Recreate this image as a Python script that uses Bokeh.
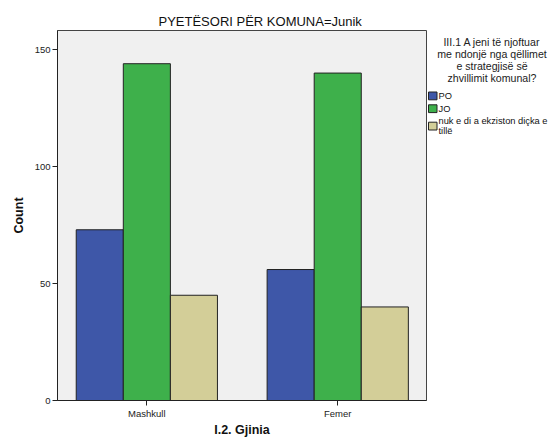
from bokeh.plotting import figure
from bokeh.layouts import row
from bokeh.models import Range1d, FixedTicker, Title, ColumnDataSource
from bokeh.core.properties import value
from bokeh.transform import dodge
from bokeh.embed import file_html
from bokeh.resources import INLINE

# ---- data ----
genders = ["Mashkull", "Femer"]
answers = ["PO", "JO", "nuk e di a ekziston diçka e\ntillë"]
po = [73, 56]
jo = [144, 140]
nuk = [45, 40]
y_ticks = [0, 50, 100, 150]
title_text = "PYETËSORI PËR KOMUNA=Junik"
legend_title = ["III.1 A jeni të njoftuar", "me ndonjë nga qëllimet",
                "e strategjisë së", "zhvillimit komunal?"]
x_label = "I.2. Gjinia"
y_label = "Count"

colors = ["#3E57A8", "#3EB04B", "#D3CE98"]
FONT = "Liberation Sans"
W, H = 554, 439
FRAME_RIGHT = 426
TOP, BOTTOM = 30, 39

src = ColumnDataSource(dict(x=list(range(len(genders))), po=po, jo=jo, nuk=nuk))

p = figure(width=FRAME_RIGHT + 1, height=H, output_backend="svg", toolbar_location=None,
           x_range=Range1d(-0.468, 1.465), y_range=Range1d(0, 158.2),
           min_border_left=57, min_border_right=1, min_border_top=TOP,
           min_border_bottom=BOTTOM, title=None)

p.background_fill_color = "#F0F0F0"
p.border_fill_color = "white"
p.outline_line_color = "#444444"
p.grid.visible = False

bw = 0.2466
p.vbar(x=dodge("x", -bw, range=p.x_range), top="po", width=bw, source=src,
       fill_color=colors[0], line_color="#222222", line_width=1)
p.vbar(x=dodge("x", 0, range=p.x_range), top="jo", width=bw, source=src,
       fill_color=colors[1], line_color="#222222", line_width=1)
p.vbar(x=dodge("x", bw, range=p.x_range), top="nuk", width=bw, source=src,
       fill_color=colors[2], line_color="#222222", line_width=1)

# axes
p.xaxis.ticker = FixedTicker(ticks=list(range(len(genders))))
p.xaxis.major_label_overrides = {i: g for i, g in enumerate(genders)}
p.yaxis.ticker = FixedTicker(ticks=y_ticks)
for ax in (p.xaxis[0], p.yaxis[0]):
    ax.major_tick_out = 5
    ax.major_tick_in = 0
    ax.minor_tick_out = 0
    ax.minor_tick_in = 0
    ax.axis_line_color = "#222222"
    ax.major_tick_line_color = "#222222"
    ax.major_label_text_font = FONT
    ax.major_label_text_font_size = "9.5px"
    ax.major_label_text_color = "#222222"
    ax.major_label_standoff = 2
    ax.axis_label_text_font = FONT
    ax.axis_label_text_font_size = "12.5px"
    ax.axis_label_text_font_style = "bold"
    ax.axis_label_text_color = "#111111"
p.xaxis.axis_label = x_label
p.yaxis.axis_label = y_label
p.xaxis.axis_label_standoff = 1
p.yaxis.axis_label_standoff = 6

# title
t = Title(text=title_text, align="left", offset=101, text_font=FONT,
          text_font_size="13px", text_font_style="normal", text_color="#111111",
          standoff=4)
p.add_layout(t, "above")

# ---- legend panel (separate figure to the right; its frame is aligned with
# the main frame by the row layout, so use window coordinates of that frame) ----
lg = figure(width=W - FRAME_RIGHT - 1, height=H, output_backend="svg",
            toolbar_location=None, x_range=Range1d(FRAME_RIGHT + 1, W),
            y_range=Range1d(H - BOTTOM, TOP), min_border=0,
            x_axis_type=None, y_axis_type=None, title=None)
lg.outline_line_color = None
lg.grid.visible = False
lg.background_fill_color = "white"

lg.text(x=[491.5] * len(legend_title), y=[41 + 12 * i for i in range(len(legend_title))],
        text=legend_title, text_align="center", text_baseline="middle",
        text_font=value(FONT), text_font_size="10.6px", text_color="#222222")

item_tops = [91.5, 104.3, 121.7]
sq = 7.8
lg.quad(left=[428] * 3, right=[436.5] * 3, top=item_tops,
        bottom=[t_ + sq for t_ in item_tops], fill_color=colors,
        line_color="#222222", line_width=1)

lab_x, lab_y, lab_t = [], [], []
for i, a in enumerate(answers):
    lines = a.split("\n")
    c = item_tops[i] + sq / 2
    start = c - 5 * (len(lines) - 1)
    for j, ln in enumerate(lines):
        lab_x.append(438.0)
        lab_y.append(start + 10 * j)
        lab_t.append(ln)
lg.text(x=lab_x, y=lab_y, text=lab_t, text_align="left", text_baseline="middle",
        text_font=value(FONT), text_font_size="9.3px", text_color="#111111")

layout = row(p, lg, spacing=0)
open("out.html", "w").write(file_html(layout, INLINE))
